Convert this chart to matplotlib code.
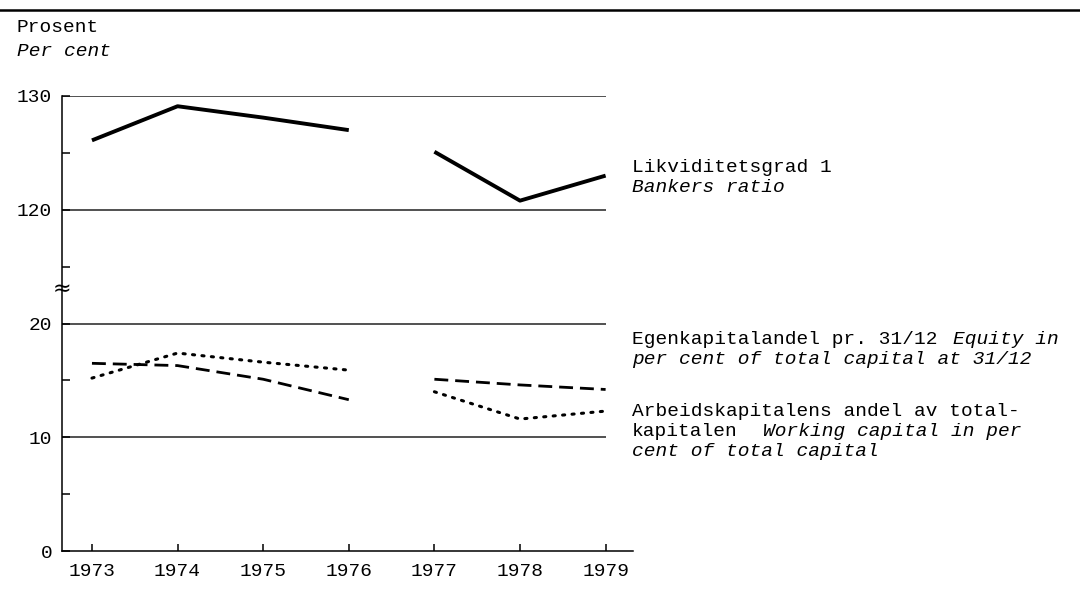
import matplotlib.pyplot as plt
from matplotlib.lines import Line2D

plt.rcParams['font.family'] = ['Liberation Mono', 'DejaVu Sans Mono']

years_a = [1973, 1974, 1975, 1976]
years_b = [1977, 1978, 1979]

# Likviditetsgrad 1 / Bankers ratio (upper panel, 120-130)
bankers_a = [126.1, 129.1, 128.1, 127.0]
bankers_b = [125.1, 120.8, 123.0]

# Egenkapitalandel (dashed)
equity_a = [16.5, 16.3, 15.1, 13.3]
equity_b = [15.1, 14.6, 14.2]

# Arbeidskapitalens andel (dotted)
working_a = [15.2, 17.4, 16.6, 15.9]
working_b = [14.0, 11.6, 12.3]

year_ticks = [1973, 1974, 1975, 1976, 1977, 1978, 1979]
y_ticks = [0, 10, 20, 30, 40]
y_labels = ['0', '10', '20', '120', '130']

# upper section is drawn shifted down so 120 sits one step above 20
OFFSET = 90


def upper(vals):
    return [v - OFFSET for v in vals]


fig = plt.figure(figsize=(10.8, 6.04), dpi=100)
ax = fig.add_axes([62 / 1080, 1 - 551 / 604, (633 - 62) / 1080, (551 - 96) / 604])

x0, x1 = 1972.65, 1979.32
for y in [10, 20, 30, 40]:
    ax.hlines(y, x0, 1979, color='#222222', lw=1.1, zorder=1)

ax.plot(years_a, upper(bankers_a), color='black', lw=2.8, solid_capstyle='butt')
ax.plot(years_b, upper(bankers_b), color='black', lw=2.8, solid_capstyle='butt')
for xs, ys in [(years_a, equity_a), (years_b, equity_b)]:
    ax.plot(xs, ys, color='black', lw=2.0, dashes=(5, 2.5))
for xs, ys in [(years_a, working_a), (years_b, working_b)]:
    ax.plot(xs, ys, color='black', lw=2.2, linestyle=(0, (0.7, 2.4)),
            dash_capstyle='round')

ax.set_xlim(x0, x1)
ax.set_ylim(0, 40)
ax.set_xticks(year_ticks)
ax.set_xticklabels([str(y) for y in year_ticks])
ax.set_yticks(y_ticks)
ax.set_yticklabels(y_labels)
ax.set_yticks([5, 15, 25, 35], minor=True)
ax.tick_params(axis='y', which='both', direction='in', length=6, width=1.1,
               labelsize=14, pad=7)
ax.tick_params(axis='x', direction='in', length=5, width=1.1, labelsize=14, pad=9)
for s in ['top', 'right']:
    ax.spines[s].set_visible(False)
ax.spines['left'].set_linewidth(1.1)
ax.spines['bottom'].set_linewidth(1.1)

# axis break mark
ax.text(x0, 23.0, '≈', ha='center', va='center', fontsize=16,
        family='DejaVu Sans', zorder=5)

# top rule
fig.add_artist(Line2D([0, 1], [1 - 10 / 604, 1 - 10 / 604], color='black', lw=1.8))

fig.text(17 / 1080, 1 - 28 / 604, 'Prosent', fontsize=14, va='center')
fig.text(17 / 1080, 1 - 52 / 604, 'Per cent', fontsize=14, va='center', style='italic')

lx = 632 / 1080
cw = 11.9 / 1080  # width of one character

fig.text(lx, 1 - 168 / 604, 'Likviditetsgrad 1', fontsize=14, va='center')
fig.text(lx, 1 - 188 / 604, 'Bankers ratio', fontsize=14, va='center', style='italic')

fig.text(lx, 1 - 340 / 604, 'Egenkapitalandel pr. 31/12', fontsize=14, va='center')
fig.text(lx + 27 * cw, 1 - 340 / 604, 'Equity in', fontsize=14,
         va='center', style='italic')
fig.text(lx, 1 - 360 / 604, 'per cent of total capital at 31/12', fontsize=14,
         va='center', style='italic')

fig.text(lx, 1 - 412 / 604, 'Arbeidskapitalens andel av total-', fontsize=14, va='center')
fig.text(lx, 1 - 432 / 604, 'kapitalen', fontsize=14, va='center')
fig.text(lx + 11 * cw, 1 - 432 / 604, 'Working capital in per', fontsize=14,
         va='center', style='italic')
fig.text(lx, 1 - 452 / 604, 'cent of total capital', fontsize=14, va='center',
         style='italic')

fig.savefig('out.png', dpi=100)
